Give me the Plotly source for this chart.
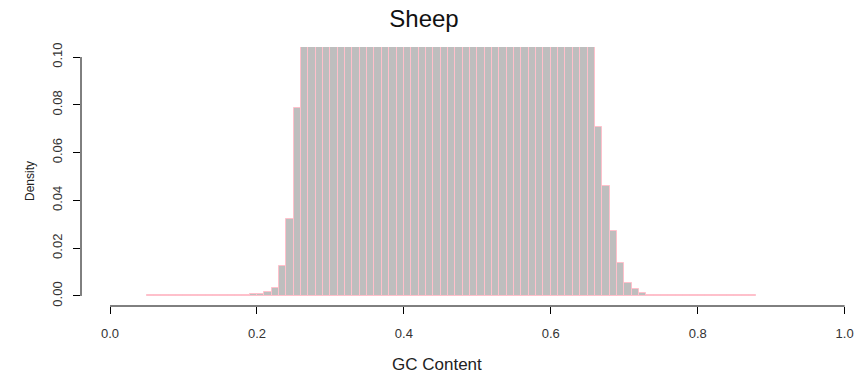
import plotly.graph_objects as go

# ---- data ----
bin_start = 0.05
bin_width = 0.01
# density per 0.01 bin from 0.05 to 0.88
left_tail = [0.0002, 0.0002, 0.0002, 0.0002, 0.0002, 0.0002, 0.0002, 0.0002,
             0.0002, 0.0002, 0.0002, 0.0002, 0.0003,            # 0.05 - 0.18
             0.0005, 0.0007, 0.0009, 0.0015, 0.0032, 0.0126, 0.0322, 0.0788]  # 0.18 - 0.26
core = [0.24, 0.62, 1.18, 1.84, 2.45, 2.96, 3.34, 3.58, 3.71, 3.74,
        3.70, 3.61, 3.49, 3.36, 3.22, 3.08, 2.95, 2.82, 2.70, 2.58,
        2.47, 2.36, 2.25, 2.14, 2.03, 1.92, 1.80, 1.68, 1.55, 1.42,
        1.28, 1.13, 0.98, 0.83, 0.68, 0.54, 0.41, 0.30, 0.20, 0.13]  # 0.26 - 0.66
right_tail = [0.0706, 0.0460, 0.0273, 0.0139, 0.0056, 0.0028, 0.0011, 0.0006,  # 0.66 - 0.74
              0.0003, 0.0002, 0.0002, 0.0002, 0.0002, 0.0002, 0.0002, 0.0002,
              0.0002, 0.0002, 0.0002, 0.0002, 0.0002, 0.0002]  # 0.74 - 0.88
density = left_tail + core + right_tail
centers = [bin_start + bin_width * (i + 0.5) for i in range(len(density))]

x_ticks = [0.0, 0.2, 0.4, 0.6, 0.8, 1.0]
x_ticktext = ["0.0", "0.2", "0.4", "0.6", "0.8", "1.0"]
y_ticks = [0.00, 0.02, 0.04, 0.06, 0.08, 0.10]
y_ticktext = ["0.00", "0.02", "0.04", "0.06", "0.08", "0.10"]

W, H = 865, 375
ML, MR, MT, MB = 81, 0, 47, 69
FONT = "Liberation Sans, Arial, sans-serif"

fig = go.Figure()
fig.add_trace(go.Bar(
    x=centers, y=density, width=bin_width,
    marker=dict(color="#bebebe", line=dict(color="#ffc0cb", width=1)),
    showlegend=False,
))

fig.update_layout(
    width=W, height=H,
    margin=dict(l=ML, r=MR, t=MT, b=MB, pad=0),
    paper_bgcolor="white", plot_bgcolor="white",
    bargap=0,
    font=dict(family=FONT, color="#333333"),
    title=dict(text="Sheep", x=424 / W, xanchor="center", y=1 - 19 / H, yanchor="middle",
               font=dict(size=24, color="#111111", family=FONT)),
    xaxis=dict(range=[-0.0395, 1.0277], showgrid=False, zeroline=False, showline=False,
               tickvals=x_ticks, ticktext=x_ticktext, ticks="outside", ticklen=7,
               tickcolor="black", tickwidth=1, tickfont=dict(size=13, color="#333333"),
               ticklabelstandoff=8),
    yaxis=dict(range=[-0.0042, 0.1042], showgrid=False, zeroline=False, showline=False,
               tickvals=y_ticks, ticktext=y_ticktext, ticks="outside", ticklen=7,
               tickcolor="black", tickwidth=1, tickangle=-90,
               tickfont=dict(size=13, color="#333333"), ticklabelstandoff=6),
    shapes=[
        dict(type="line", xref="x", yref="paper", x0=x_ticks[0], x1=x_ticks[-1], y0=0, y1=0,
             line=dict(color="black", width=1)),
        dict(type="line", xref="paper", yref="y", x0=0, x1=0, y0=y_ticks[0], y1=y_ticks[-1],
             line=dict(color="black", width=1)),
    ],
    annotations=[
        dict(text="GC Content", xref="paper", yref="paper",
             x=(437 - ML) / (W - ML - MR), y=-(364 - (H - MB)) / (H - MT - MB),
             xanchor="center", yanchor="middle", showarrow=False,
             font=dict(size=17, color="#222222", family=FONT)),
        dict(text="Density", xref="paper", yref="paper", textangle=-90,
             x=(30 - ML) / (W - ML - MR), y=((H - MB) - 181) / (H - MT - MB),
             xanchor="center", yanchor="middle", showarrow=False,
             font=dict(size=12, color="#222222", family=FONT)),
    ],
)

fig.write_html("out.html")
